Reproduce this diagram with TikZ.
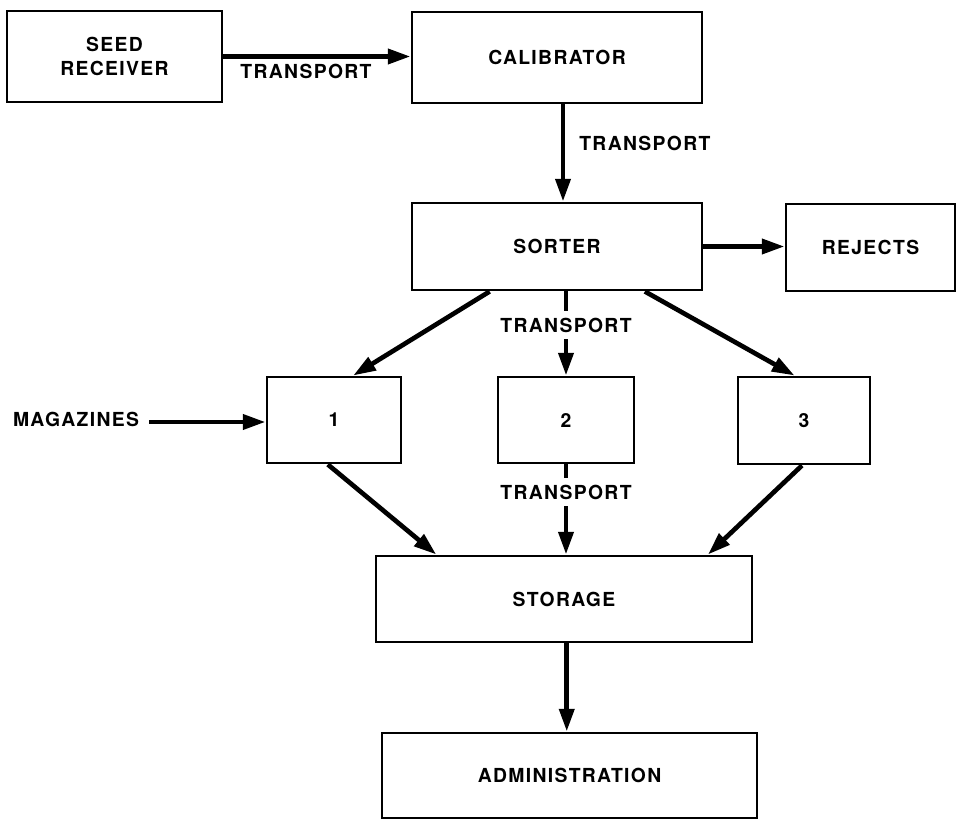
\documentclass[tikz,border=0pt]{standalone}
\usepackage{fontspec}
\setmainfont{TeX Gyre Heros}[LetterSpace=7]
\usetikzlibrary{arrows.meta,calc}
\begin{document}
\begin{tikzpicture}[x=0.75pt,y=-0.75pt,
  txt/.style={font=\fontsize{14.5}{18}\selectfont\bfseries, align=center},
  box/.style={draw, line width=2.2pt, inner sep=0pt, txt},
  lbl/.style={inner sep=0pt, txt},
  arr/.style={line width=3.5pt, -{Triangle[length=17pt,width=11pt]}}]
\useasboundingbox (0,0) rectangle (957,820);

% boxes
\node[box, minimum width=215*0.75pt, minimum height=91*0.75pt] (seed) at (114.5,56.5) {SEED\\RECEIVER};
\node[box, minimum width=290*0.75pt, minimum height=91*0.75pt] (calib) at (557,57.5) {CALIBRATOR};
\node[box, minimum width=290*0.75pt, minimum height=87*0.75pt] (sorter) at (557,246.5) {SORTER};
\node[box, minimum width=169*0.75pt, minimum height=87*0.75pt] (rejects) at (870.5,247.5) {REJECTS};
\node[box, minimum width=134*0.75pt, minimum height=86*0.75pt] (b1) at (334,420) {1};
\node[box, minimum width=136*0.75pt, minimum height=86*0.75pt] (b2) at (566,420) {2};
\node[box, minimum width=132*0.75pt, minimum height=87*0.75pt] (b3) at (804,420.5) {3};
\node[box, minimum width=376*0.75pt, minimum height=86*0.75pt] (storage) at (564,599) {STORAGE};
\node[box, minimum width=375*0.75pt, minimum height=85*0.75pt] (admin) at (569.5,775.5) {ADMINISTRATION};

% free labels
\node[lbl] (t1) at (306,71) {TRANSPORT};
\node[lbl, anchor=west] (t2) at (579,143) {TRANSPORT};
\node[lbl] (mag) at (76,419) {MAGAZINES};

% connectors
\draw[arr] (seed.east) -- (seed.east -| calib.west);
\draw[arr] ($(calib.south)+(6,0)$) -- ($(sorter.north)+(6,0)$);
\draw[arr] (sorter.east) -- (sorter.east -| rejects.west);
\coordinate (m1) at ($(mag.east)+(10,3)$);
\draw[arr] (m1) -- (m1 -| b1.west);

\draw[arr] ($(sorter.south west)!0.27!(sorter.south east)$) -- ($(b1.north west)!0.64!(b1.north east)$);
\draw[arr] ($(sorter.south west)!0.80!(sorter.south east)$) -- ($(b3.north west)!0.43!(b3.north east)$);
\draw[arr] (b2.north |- sorter.south) -- node[lbl, pos=0.4, fill=white, inner ysep=5pt, inner xsep=1pt] (t3) {TRANSPORT} (b2.north);

\draw[arr] ($(b1.south west)!0.455!(b1.south east)$) -- ($(storage.north west)!0.163!(storage.north east)$);
\draw[arr] ($(b3.south west)!0.485!(b3.south east)$) -- ($(storage.north west)!0.88!(storage.north east)$);
\draw[arr] (b2.south) -- node[lbl, pos=0.31, fill=white, inner ysep=5pt, inner xsep=1pt] (t4) {TRANSPORT} (b2.south |- storage.north);

\coordinate (sa) at ($(storage.south)!0.5!(storage.south -| admin.north)$);
\draw[arr] (sa) -- (sa |- admin.north);
\end{tikzpicture}
\end{document}
